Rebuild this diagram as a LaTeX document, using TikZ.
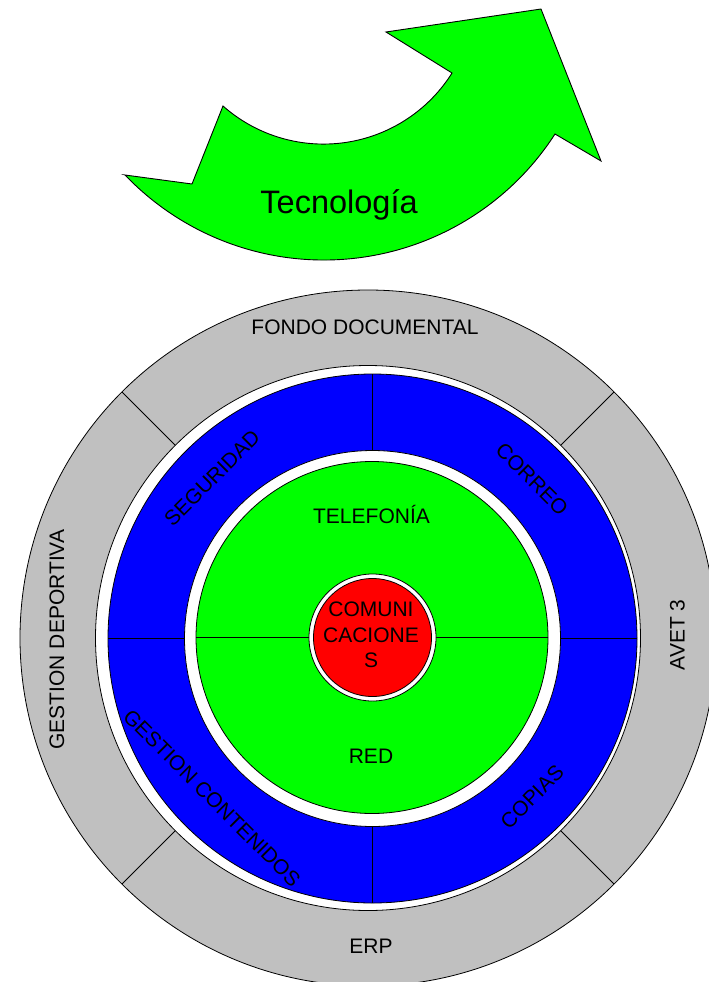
\documentclass[tikz,border=0pt]{standalone}
\usepackage{fontspec}
\setmainfont{Liberation Sans}
\usetikzlibrary{calc}
\definecolor{ringgray}{RGB}{192,192,192}
\definecolor{ringblue}{RGB}{0,0,255}
\definecolor{ringgreen}{RGB}{0,255,0}
\definecolor{ringred}{RGB}{255,0,0}
\begin{document}
\begin{tikzpicture}[x=1pt,y=-1pt,line width=0.8pt,
  lbl/.style={font=\fontsize{21}{25.5}\selectfont,inner sep=0pt},
  ring/.style={draw=black,line width=0.8pt},
  divider/.style={draw=black,line width=0.9pt}]
\useasboundingbox (0,0) rectangle (709,982);
\clip (0,0) rectangle (709,982);

% curved arrow
\draw[fill=ringgreen,line width=0.9pt,line join=miter]
  (125,175) -- (192,184) -- (223,106)
  arc[start angle=131.5,end angle=32.1,radius=151.7]
  -- (386,32) -- (541,9) -- (601,161) -- (555,134)
  arc[start angle=32.8,end angle=136.3,radius=275] -- cycle;
\node[font=\fontsize{32.5}{38}\selectfont,inner sep=0pt,anchor=base] (tec) at (339,213.3) {Tecnología};

% rings
\coordinate (G) at (368,638);
\coordinate (B) at (372.5,638.5);
\coordinate (V) at (372,637.5);
\coordinate (R) at (372.5,637.5);
\path[ring,fill=ringgray] (G) circle[radius=348];
\path[ring,fill=white] (G) circle[radius=272.5];
\path[ring,fill=ringblue] (B) circle[radius=264.5];
\path[ring,fill=white] (B) circle[radius=188];
\path[ring,fill=ringgreen] (V) circle[radius=176];

% dividers
\foreach \a in {45,135,225,315}
  \draw[divider] ($(G)+(\a:272.5)$) -- ($(G)+(\a:348)$);
\foreach \a in {0,90,180,270}
  \draw[divider] ($(B)+(\a:188)$) -- ($(B)+(\a:264.5)$);
\draw[divider] ($(V)+(180:176)$) -- ($(V)+(0:176)$);

% centre
\path[ring,fill=white] (R) circle[radius=63.5];
\path[ring,fill=ringred] (R) circle[radius=59];

% labels
\node[lbl,anchor=base] (fondo) at (365,334) {FONDO DOCUMENTAL};
\node[lbl,anchor=base] (erp) at (371,953) {ERP};
\node[lbl,rotate=90] (gdep) at (57,639.5) {GESTION DEPORTIVA};
\node[lbl,rotate=90] (avet) at (677.5,635) {AVET 3};
\node[lbl,rotate=45] (seg) at (212,478) {SEGURIDAD};
\node[lbl,rotate=-45] (correo) at (532,479) {CORREO};
\node[lbl,rotate=-45] (gcont) at (212,798) {GESTION CONTENIDOS};
\node[lbl,rotate=45] (copias) at (532,797) {COPIAS};
\node[lbl,anchor=base] (tel) at (371.5,523.3) {TELEFONÍA};
\node[lbl,anchor=base] (red) at (371,763) {RED};
\node[lbl,align=center] (com) at (371,635) {COMUNI\\CACIONE\\S};
\end{tikzpicture}
\end{document}
